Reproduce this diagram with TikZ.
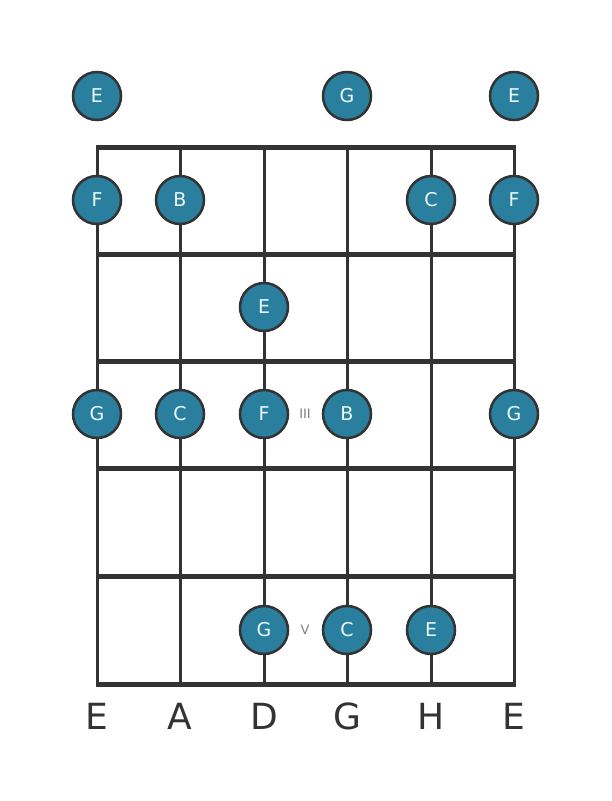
\documentclass[tikz,border=0pt]{standalone}
\usepackage{fontspec}
\setmainfont{DejaVu Sans}
\definecolor{notefill}{RGB}{41,127,157}
\definecolor{gridline}{RGB}{51,51,51}
\definecolor{notetext}{RGB}{235,250,250}
\tikzset{
	note/.style={circle, draw=gridline, line width=2.5pt, fill=notefill, minimum size=48pt, inner sep=0pt, text=notetext, font=\fontsize{19}{19}\selectfont},
	fretmark/.style={text=gray, font=\fontsize{13}{13}\selectfont},
	stringname/.style={text=gridline, font=\fontsize{36}{36}\selectfont}
}
\begin{document}
\begin{tikzpicture}[x=1pt,y=-1pt]
		\useasboundingbox (0,0) rectangle (611,801);
		% strings
		\draw[gridline, line width=3pt] (97,147) -- (97,684);
		\draw[gridline, line width=3pt] (180,147) -- (180,684);
		\draw[gridline, line width=3pt] (264,147) -- (264,684);
		\draw[gridline, line width=3pt] (347,147) -- (347,684);
		\draw[gridline, line width=3pt] (431,147) -- (431,684);
		\draw[gridline, line width=3pt] (514,147) -- (514,684);
		% frets
		\draw[gridline, line width=5pt] (95.5,147) -- (515.5,147);
		\draw[gridline, line width=5pt] (95.5,254) -- (515.5,254);
		\draw[gridline, line width=5pt] (95.5,361) -- (515.5,361);
		\draw[gridline, line width=5pt] (95.5,468) -- (515.5,468);
		\draw[gridline, line width=5pt] (95.5,576) -- (515.5,576);
		\draw[gridline, line width=5pt] (95.5,684) -- (515.5,684);
		% open strings
		\node[note] (open1) at (97,96) {E};
		\node[note] (open4) at (347,96) {G};
		\node[note] (open6) at (514,96) {E};
		% fret 1
		\node[note] (f1s1) at (97,200) {F};
		\node[note] (f1s2) at (180,200) {B};
		\node[note] (f1s5) at (431,200) {C};
		\node[note] (f1s6) at (514,200) {F};
		% fret 2
		\node[note] (f2s3) at (264,307) {E};
		% fret 3
		\node[note] (f3s1) at (97,414) {G};
		\node[note] (f3s2) at (180,414) {C};
		\node[note] (f3s3) at (264,414) {F};
		\node[note] (f3s4) at (347,414) {B};
		\node[note] (f3s6) at (514,414) {G};
		\node[fretmark] (mark3) at (305,414) {III};
		% fret 5
		\node[note] (f5s3) at (264,630) {G};
		\node[note] (f5s4) at (347,630) {C};
		\node[note] (f5s5) at (431,630) {E};
		\node[fretmark] (mark5) at (305,630) {V};
		% tuning
		\node[stringname] (name1) at (97,716) {E};
		\node[stringname] (name2) at (180,716) {A};
		\node[stringname] (name3) at (264,716) {D};
		\node[stringname] (name4) at (347,716) {G};
		\node[stringname] (name5) at (431,716) {H};
		\node[stringname] (name6) at (514,716) {E};
	\end{tikzpicture}
\end{document}
